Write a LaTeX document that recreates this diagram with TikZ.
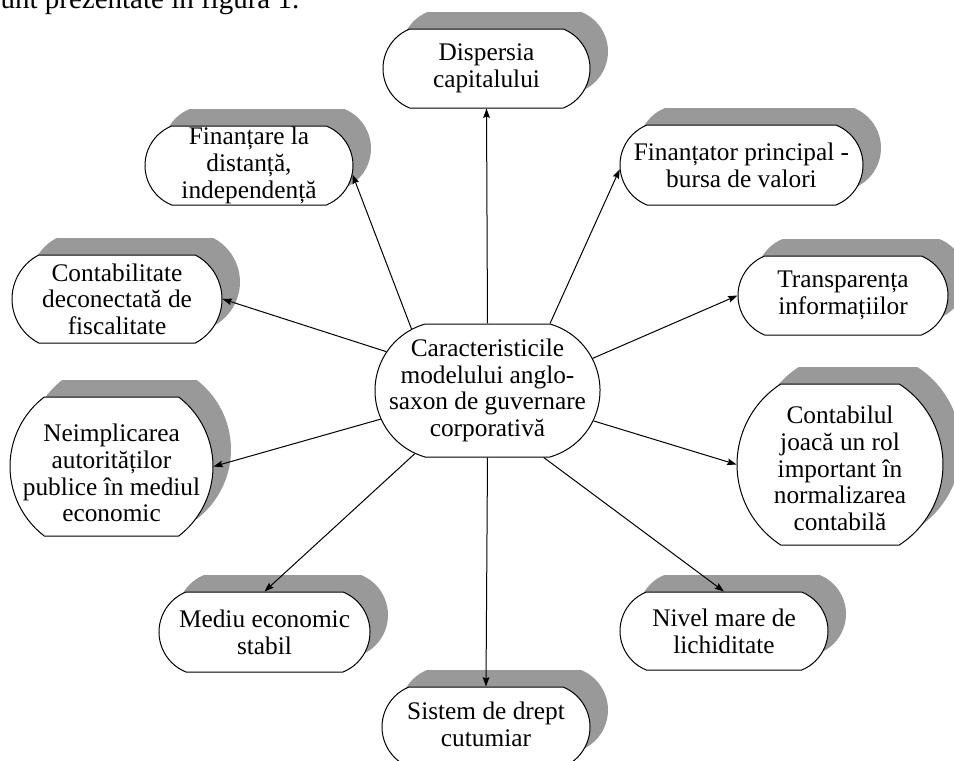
\documentclass[tikz,border=0pt]{standalone}
\usepackage{fontspec}
\setmainfont{Liberation Serif}
\usetikzlibrary{shapes.misc,shadows,arrows.meta}
\definecolor{shadowgray}{RGB}{153,153,153}
\tikzset{
  pill/.style={rounded rectangle, draw=black, line width=0.75pt, fill=white,
    inner sep=0pt, rounded rectangle arc length=136,
    general shadow={shadow xshift=13.5pt, shadow yshift=12.75pt, fill=shadowgray}},
  hub/.style={rounded rectangle, draw=black, line width=0.75pt, fill=white,
    inner sep=0pt, rounded rectangle arc length=148},
  txt/.style={align=center, inner sep=0pt, font=\fontsize{19pt}{20pt}\selectfont},
  conn/.style={line width=0.75pt, -{Stealth[length=7pt,width=5pt,inset=1pt]}},
}
\begin{document}
\begin{tikzpicture}[x=0.75pt,y=-0.75pt]
\useasboundingbox (0,0) rectangle (954,761);

% closing line of the preceding paragraph
\node[anchor=base west, inner sep=0pt, font=\fontsize{21.75pt}{26pt}\selectfont]
  (intro) at (-11,8.5) {sunt prezentate în figura 1.};

% central node
\node[hub, minimum width=168.75pt, minimum height=99.75pt,
  label={[txt]center:{Caracteristicile\\modelului anglo-\\saxon de guvernare\\corporativă}}]
  (hubnode) at (487.5,390.5) {};

% surrounding characteristics
\node[pill, minimum width=155.25pt, minimum height=59.25pt,
  label={[txt]center:{Dispersia\\capitalului}}]
  (disp) at (486.5,68.5) {};
\node[pill, minimum width=156pt, minimum height=59.25pt,
  label={[txt]center:{Finanțare la\\distanță,\\independență}}]
  (dist) at (249,165.5) {};
\node[pill, minimum width=182.25pt, minimum height=60pt,
  label={[txt]center:{Finanțator principal -\\bursa de valori}}]
  (bursa) at (741.5,165) {};
\node[pill, minimum width=157.5pt, minimum height=66pt, rounded rectangle arc length=125,
  label={[txt]center:{Contabilitate\\deconectată de\\fiscalitate}}]
  (fisc) at (117,299) {};
\node[pill, minimum width=157.5pt, minimum height=59.25pt,
  label={[txt]center:{Transparența\\informațiilor}}]
  (transp) at (843,295.5) {};
\node[pill, minimum width=152.25pt, minimum height=104.25pt, rounded rectangle arc length=105,
  label={[txt,yshift=-5pt]center:{Neimplicarea\\autorităților\\publice în mediul\\economic}}]
  (neimpl) at (111.5,466.5) {};
\node[pill, minimum width=154.5pt, minimum height=120.75pt, rounded rectangle arc length=114,
  label={[txt,yshift=-3pt]center:{Contabilul\\joacă un rol\\important în\\normalizarea\\contabilă}}]
  (contab) at (840,464.5) {};
\node[pill, minimum width=158.25pt, minimum height=60pt,
  label={[txt]center:{Mediu economic\\stabil}}]
  (mediu) at (264.5,632) {};
\node[pill, minimum width=156pt, minimum height=58.5pt,
  label={[txt]center:{Nivel mare de\\lichiditate}}]
  (lichid) at (724,631) {};
\node[pill, minimum width=156pt, minimum height=60pt,
  label={[txt,yshift=2pt]center:{Sistem de drept\\cutumiar}}]
  (drept) at (486,727) {};

% connectors from the central node
\draw[conn] (hubnode.90) -- (disp.south);
\draw[conn] (hubnode.141.6) -- (dist.-5);
\draw[conn] (hubnode.47.3) -- (bursa.182);
\draw[conn] (hubnode.159.4) -- (fisc.east);
\draw[conn] (hubnode.17.5) -- (transp.west);
\draw[conn] (hubnode.195.1) -- (neimpl.east);
\draw[conn] (hubnode.344) -- (contab.west);
\draw[conn] (hubnode.221.5) -- (mediu.north);
\draw[conn] (hubnode.270) -- (drept.north);
\draw[conn] (hubnode.310.7) -- (lichid.north);
\end{tikzpicture}
\end{document}
